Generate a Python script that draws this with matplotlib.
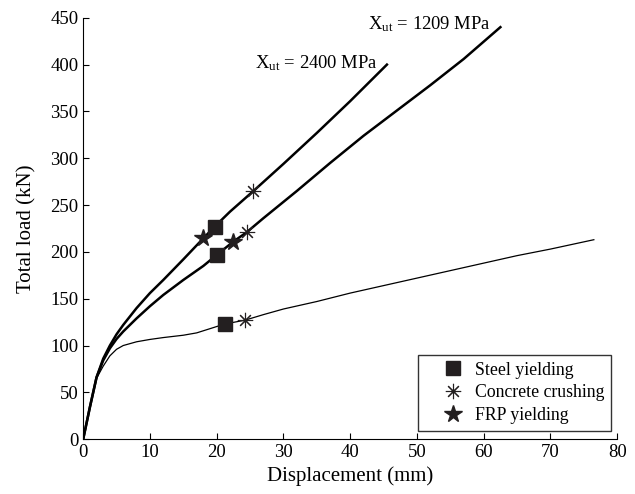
import numpy as np
import matplotlib.pyplot as plt

plt.rcParams['font.family'] = 'Liberation Serif'
plt.rcParams['mathtext.fontset'] = 'custom'
plt.rcParams['mathtext.rm'] = 'Liberation Serif'
plt.rcParams['mathtext.it'] = 'Liberation Serif:italic'

# X_ut = 2400 MPa
x_2400 = [0, 1, 2, 3, 4, 5, 6, 8, 10, 12, 15, 18, 19.7, 22, 25.5, 30, 35, 40, 45.5]
y_2400 = [0, 34, 66, 86, 100, 112, 122, 140, 156, 170, 192, 214.5, 227, 243, 265, 294, 327, 361, 400]

# X_ut = 1209 MPa
x_1209 = [0, 1, 2, 3, 4, 5, 6, 8, 10, 12, 15, 18, 20, 22.5, 24.5, 27, 32, 37, 42, 47, 52, 57, 62.5]
y_1209 = [0, 34, 66, 84, 97, 107, 115, 129, 142, 154, 170, 185, 196.7, 211, 221, 236, 265, 295, 324, 351, 378, 406, 440]

# unstrengthened
x_ref = [0, 1, 2, 3, 4, 5, 6, 8, 10, 12, 15, 17, 19, 21.2, 24.2, 27, 30, 35, 40, 45, 50, 55, 60, 65, 70, 76.5]
y_ref = [0, 34, 65, 78, 89, 96, 100, 104, 106.5, 108.5, 111, 113.5, 118, 123, 127, 133, 139, 147, 156, 164, 172, 180, 188, 196, 203, 213]

# event points
steel_x = [19.7, 20, 21.2]
steel_y = [227, 196.7, 123]
crush_x = [25.5, 24.5, 24.2]
crush_y = [265, 221, 127]
frp_x = [18, 22.5]
frp_y = [214.5, 211]

fig = plt.figure(figsize=(6.35, 4.94), dpi=100)
ax = fig.add_axes([0.131, 0.111, 0.841, 0.853])

ax.plot(x_2400, y_2400, color='k', lw=1.8)
ax.plot(x_1209, y_1209, color='k', lw=1.8)
ax.plot(x_ref, y_ref, color='k', lw=0.9)

ax.plot(steel_x, steel_y, ls='none', marker='s', ms=10, color='#231f20', label='Steel yielding')
ax.plot(crush_x, crush_y, ls='none', marker=(8, 2, 0), ms=11, mew=0.8, color='#231f20',
        label='Concrete crushing')
ax.plot(frp_x, frp_y, ls='none', marker='*', ms=13, color='#231f20', label='FRP yielding')

ax.text(25.8, 402, r'X$_{\mathrm{ut}}$ = 2400 MPa', fontsize=13.4, ha='left', va='center')
ax.text(42.7, 443, r'X$_{\mathrm{ut}}$ = 1209 MPa', fontsize=13.4, ha='left', va='center')

ax.set_xlim(0, 80)
ax.set_ylim(0, 450)
ax.set_xticks(np.arange(0, 81, 10))
ax.set_yticks(np.arange(0, 451, 50))
ax.spines['top'].set_visible(False)
ax.spines['right'].set_visible(False)
ax.tick_params(direction='in', labelsize=13.5, length=4)
ax.set_xlabel('Displacement (mm)', fontsize=15)
ax.set_ylabel('Total load (kN)', fontsize=15, labelpad=10)

leg = ax.legend(loc='lower right', bbox_to_anchor=(0.989, 0.019), borderaxespad=0,
                fontsize=12.8, frameon=True, fancybox=False, edgecolor='k',
                handlelength=3.2, handletextpad=-0.4, borderpad=0.4, labelspacing=0.32)
leg.get_frame().set_linewidth(1.0)

fig.savefig('out.png', dpi=100)
